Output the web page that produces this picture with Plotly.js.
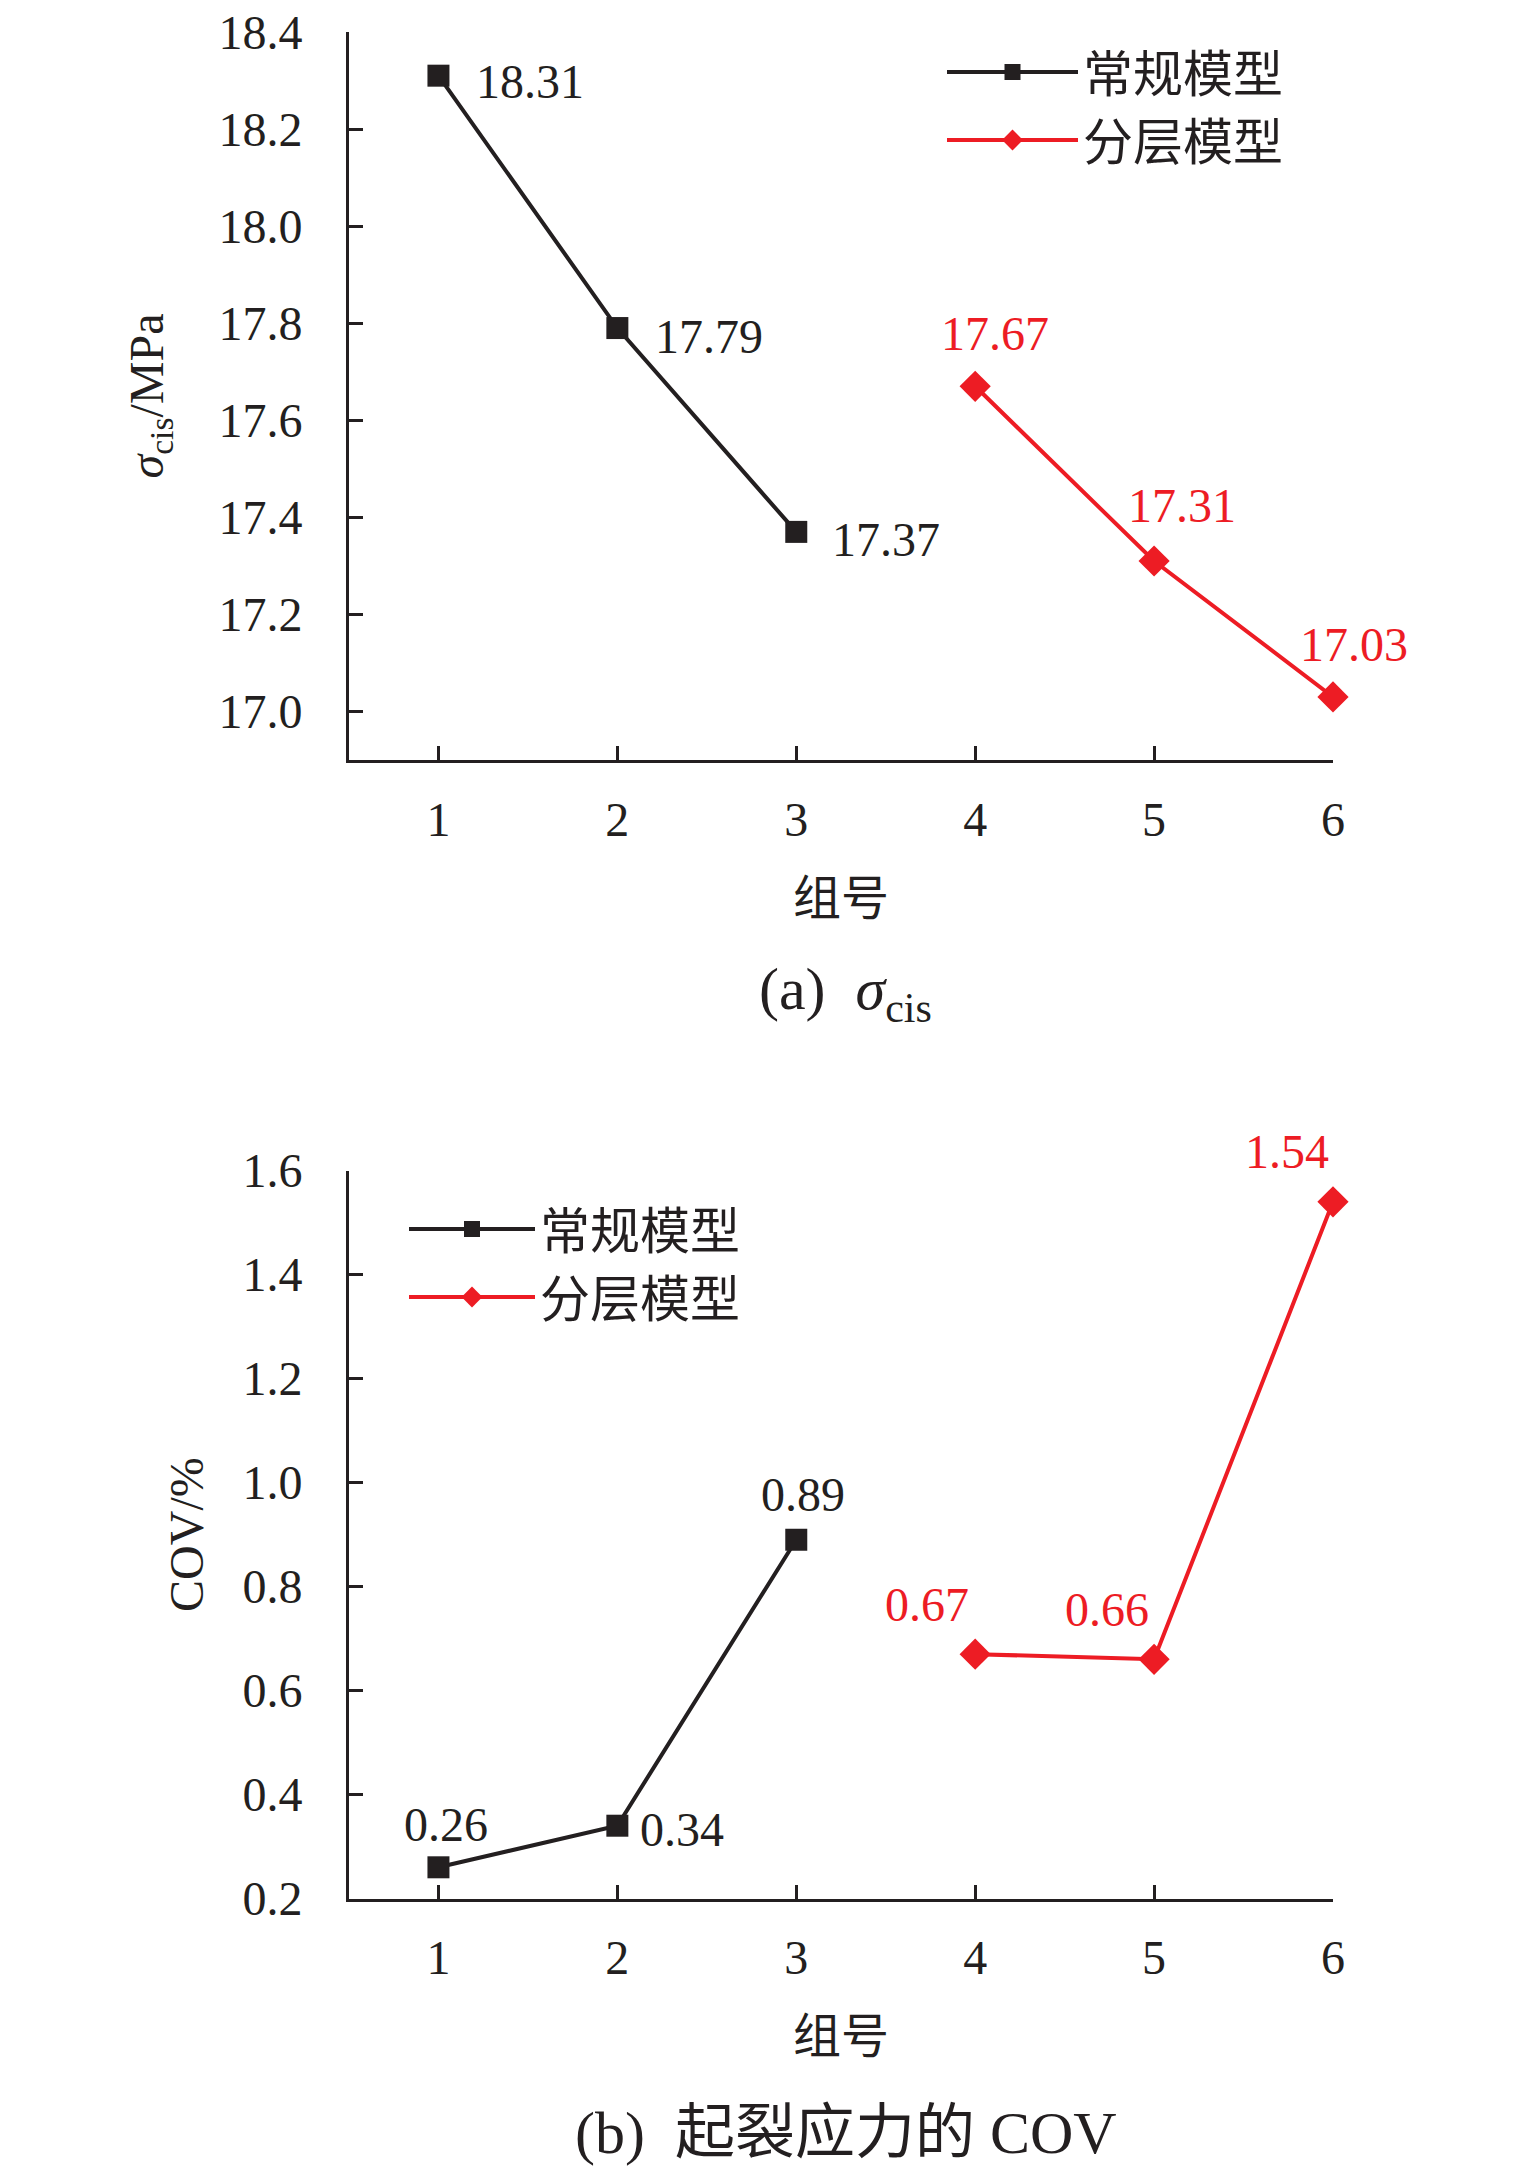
<!DOCTYPE html>
<html><head><meta charset="utf-8">
<script src="https://cdn.plot.ly/plotly-3.0.1.min.js"></script>
<style>html,body{margin:0;padding:0;background:#fff}</style>
</head><body>
<div id="chart" style="width:1535px;height:2175px"></div>
<script>
// ---- data ----
const groups = [1, 2, 3, 4, 5, 6];
const xTickLabels = ['1', '2', '3', '4', '5', '6'];
const convGroups = [1, 2, 3];
const layerGroups = [4, 5, 6];
const seriesNames = ['常规模型', '分层模型'];
const sigmaConv = [18.31, 17.79, 17.37];
const sigmaLayer = [17.67, 17.31, 17.03];
const covConv = [0.26, 0.34, 0.89];
const covLayer = [0.67, 0.66, 1.54];
const sigmaTicks = [17.0, 17.2, 17.4, 17.6, 17.8, 18.0, 18.2, 18.4];
const covTicks = [0.2, 0.4, 0.6, 0.8, 1.0, 1.2, 1.4, 1.6];

// ---- styles ----
const BLACK = '#231f20';
const RED = '#ed1c24';
const SERIF = 'Liberation Serif, Times New Roman, Noto Sans CJK SC, serif';
const W = 1535, H = 2175;

// label placement (style only)
const sigmaConvLab = [{xa:'left', dx:36, dy:-6}, {xa:'left', dx:36, dy:-8}, {xa:'left', dx:34, dy:-8}];
const sigmaLayerLab = [{xa:'center', dx:20, dy:53}, {xa:'center', dx:28, dy:56}, {xa:'center', dx:21, dy:52}];
const covConvLab = [{xa:'center', dx:8, dy:43}, {xa:'left', dx:21, dy:-4}, {xa:'center', dx:7, dy:45}];
const covLayerLab = [{xa:'center', dx:-48, dy:50}, {xa:'center', dx:-47, dy:50}, {xa:'center', dx:-46, dy:50}];

function series(x, y, name, color, symbol, size, xa, ya, leg) {
  return {
    type: 'scatter', mode: 'lines+markers', x: x, y: y, name: name,
    line: {color: color, width: 4},
    marker: {symbol: symbol, size: size, color: color},
    xaxis: xa, yaxis: ya, legend: leg, cliponaxis: false, hoverinfo: 'skip'
  };
}

const data = [
  series(convGroups, sigmaConv, seriesNames[0], BLACK, 'square', 22, 'x', 'y', 'legend'),
  series(layerGroups, sigmaLayer, seriesNames[1], RED, 'diamond', 24, 'x', 'y', 'legend'),
  series(convGroups, covConv, seriesNames[0], BLACK, 'square', 22, 'x2', 'y2', 'legend2'),
  series(layerGroups, covLayer, seriesNames[1], RED, 'diamond', 24, 'x2', 'y2', 'legend2')
];

function labels(xs, ys, pos, color, xref, yref) {
  return xs.map((x, i) => ({
    x: x, y: ys[i], xref: xref, yref: yref, text: ys[i].toFixed(2),
    showarrow: false, xanchor: pos[i].xa, yanchor: 'middle',
    xshift: pos[i].dx, yshift: pos[i].dy,
    font: {family: SERIF, size: 48, color: color}
  }));
}

const annotations = [].concat(
  labels(convGroups, sigmaConv, sigmaConvLab, BLACK, 'x', 'y'),
  labels(layerGroups, sigmaLayer, sigmaLayerLab, RED, 'x', 'y'),
  labels(convGroups, covConv, covConvLab, BLACK, 'x2', 'y2'),
  labels(layerGroups, covLayer, covLayerLab, RED, 'x2', 'y2'),
  [
    {xref: 'paper', yref: 'paper', x: 845 / W, y: 1 - 993 / H, xanchor: 'center', yanchor: 'middle',
     showarrow: false, text: '(a)\u00a0\u00a0<i>σ</i><sub>cis</sub>', font: {family: SERIF, size: 60, color: BLACK}},
    {xref: 'paper', yref: 'paper', x: 846 / W, y: 1 - 2133 / H, xanchor: 'center', yanchor: 'middle',
     showarrow: false, text: '(b)\u00a0\u00a0起裂应力的 COV', font: {family: SERIF, size: 60, color: BLACK}}
  ]
);

const axisCommon = {
  showline: true, linecolor: BLACK, linewidth: 3,
  ticks: 'inside', ticklen: 14, tickwidth: 3, tickcolor: BLACK,
  showgrid: false, zeroline: false, fixedrange: true,
  tickfont: {family: SERIF, size: 48, color: BLACK}
};

const xDomain = [349 / W, 1333 / W];

const layout = {
  width: W, height: H,
  margin: {l: 0, r: 0, t: 0, b: 0},
  paper_bgcolor: '#fff', plot_bgcolor: '#fff',
  font: {family: SERIF, color: BLACK},
  showlegend: true,
  xaxis: Object.assign({}, axisCommon, {
    domain: xDomain, anchor: 'y', range: [0.5, 6], tickmode: 'array',
    tickvals: groups, ticktext: xTickLabels, ticklabelstandoff: 15,
    title: {text: '组号', font: {family: SERIF, size: 48, color: BLACK}, standoff: 37}
  }),
  yaxis: Object.assign({}, axisCommon, {
    domain: [1 - 760 / H, 1 - 32 / H], anchor: 'x', range: [16.9, 18.4],
    tickmode: 'array', tickvals: sigmaTicks, ticktext: sigmaTicks.map(v => v.toFixed(1)),
    ticklabelstandoff: 34,
    title: {text: '<i>σ</i><sub>cis</sub>/MPa', font: {family: SERIF, size: 48, color: BLACK}, standoff: 40}
  }),
  xaxis2: Object.assign({}, axisCommon, {
    domain: xDomain, anchor: 'y2', range: [0.5, 6], tickmode: 'array',
    tickvals: groups, ticktext: xTickLabels, ticklabelstandoff: 15,
    title: {text: '组号', font: {family: SERIF, size: 48, color: BLACK}, standoff: 37}
  }),
  yaxis2: Object.assign({}, axisCommon, {
    domain: [1 - 1898.5 / H, 1 - 1170.6 / H], anchor: 'x2', range: [0.2, 1.6],
    tickmode: 'array', tickvals: covTicks, ticktext: covTicks.map(v => v.toFixed(1)),
    ticklabelstandoff: 34,
    title: {text: 'COV/%', font: {family: SERIF, size: 48, color: BLACK}, standoff: 24}
  }),
  legend: {
    x: 942 / W, y: 1 - 33 / H, xanchor: 'left', yanchor: 'top',
    bgcolor: 'rgba(0,0,0,0)', borderwidth: 0, itemwidth: 131,
    font: {family: SERIF, size: 50, color: BLACK}, tracegroupgap: 0
  },
  legend2: {
    x: 404 / W, y: 1 - 1190 / H, xanchor: 'left', yanchor: 'top',
    bgcolor: 'rgba(0,0,0,0)', borderwidth: 0, itemwidth: 126,
    font: {family: SERIF, size: 50, color: BLACK}, tracegroupgap: 0
  },
  annotations: annotations
};

Plotly.newPlot('chart', data, layout, {staticPlot: true, displayModeBar: false});
</script>
</body></html>
